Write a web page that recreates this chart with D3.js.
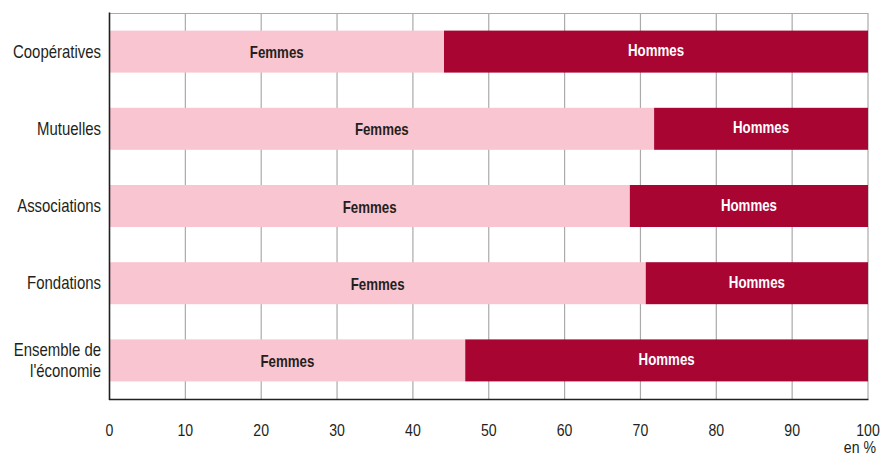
<!DOCTYPE html>
<html><head><meta charset="utf-8">
<script src="https://cdn.jsdelivr.net/npm/d3@7"></script>
<style>body{margin:0;background:#fff}</style>
</head><body>
<svg id="chart" width="882" height="455"></svg>
<script>
const categories = ["Coopératives", "Mutuelles", "Associations", "Fondations", "Ensemble de\nl'économie"];
const femmes = [44.1, 71.8, 68.6, 70.7, 46.9];
const hommes = [55.9, 28.2, 31.4, 29.3, 53.1];
const seriesNames = ["Femmes", "Hommes"];
const ticks = [0, 10, 20, 30, 40, 50, 60, 70, 80, 90, 100];
const unitLabel = "en %";

const FONT = "'Liberation Sans',Arial,sans-serif";
const SX = 0.83; // narrow font emulation
const tr = (px, py) => `translate(${px},${py}) scale(${SX},1)`;
const svg = d3.select("#chart");
const x = d3.scaleLinear().domain([0, 100]).range([109.5, 868]);
const y = d3.scaleBand().domain(categories).range([13, 399]).paddingInner(0.456).paddingOuter(0.228);

// grid
svg.append("g").selectAll("line").data(ticks.slice(1)).join("line")
  .attr("x1", d => x(d)).attr("x2", d => x(d)).attr("y1", 13).attr("y2", 399)
  .attr("stroke", "#aaaaaa").attr("stroke-width", 1.2);
svg.append("line").attr("x1", x(0)).attr("x2", x(100)).attr("y1", 13.5).attr("y2", 13.5)
  .attr("stroke", "#aaaaaa").attr("stroke-width", 1.2);

const rows = categories.map((c, i) => ({c, f: femmes[i], h: hommes[i]}));
const colors = {Femmes: "#f9c5d1", Hommes: "#a80533"};

const g = svg.append("g");
g.selectAll("rect.f").data(rows).join("rect").attr("class", "f")
  .attr("x", x(0)).attr("y", d => y(d.c)).attr("width", d => x(d.f) - x(0))
  .attr("height", y.bandwidth()).attr("fill", colors.Femmes);
g.selectAll("rect.h").data(rows).join("rect").attr("class", "h")
  .attr("x", d => x(d.f)).attr("y", d => y(d.c)).attr("width", d => x(d.f + d.h) - x(d.f))
  .attr("height", y.bandwidth()).attr("fill", colors.Hommes);

g.selectAll("text.f").data(rows).join("text").attr("class", "f")
  .attr("transform", d => tr((x(0) + x(d.f)) / 2, y(d.c) + y.bandwidth() / 2 + 6.5))
  .attr("text-anchor", "middle").attr("font-family", FONT).attr("font-weight", "bold")
  .attr("font-size", 16).attr("fill", "#231f20").text(seriesNames[0]);
g.selectAll("text.h").data(rows).join("text").attr("class", "h")
  .attr("transform", d => tr((x(d.f) + x(d.f + d.h)) / 2, y(d.c) + y.bandwidth() / 2 + 4.5))
  .attr("text-anchor", "middle").attr("font-family", FONT).attr("font-weight", "bold")
  .attr("font-size", 16).attr("fill", "#ffffff").text(seriesNames[1]);

// axes lines
svg.append("line").attr("x1", 109.5).attr("x2", 109.5).attr("y1", 12.5).attr("y2", 400)
  .attr("stroke", "#231f20").attr("stroke-width", 1.6);
svg.append("line").attr("x1", 109).attr("x2", x(100) + 0.5).attr("y1", 399.5).attr("y2", 399.5)
  .attr("stroke", "#231f20").attr("stroke-width", 1.6);

// y labels
const yl = svg.append("g");
rows.forEach(d => {
  const lines = d.c.split("\n");
  const cy = y(d.c) + y.bandwidth() / 2;
  const lh = 21;
  lines.forEach((ln, k) => {
    yl.append("text").attr("text-anchor", "end").attr("font-family", FONT)
      .attr("font-size", 18).attr("fill", "#231f20")
      .attr("transform", tr(101, cy + 6 + (k - (lines.length - 1) / 2) * lh)).text(ln);
  });
});

// x tick labels
svg.append("g").selectAll("text").data(ticks).join("text")
  .attr("transform", d => tr(x(d), 436)).attr("text-anchor", "middle")
  .attr("font-family", FONT).attr("font-size", 17).attr("fill", "#231f20").text(d => d);
svg.append("text").attr("transform", tr(876, 453)).attr("text-anchor", "end")
  .attr("font-family", FONT).attr("font-size", 17).attr("fill", "#231f20").text(unitLabel);
</script>
</body></html>
